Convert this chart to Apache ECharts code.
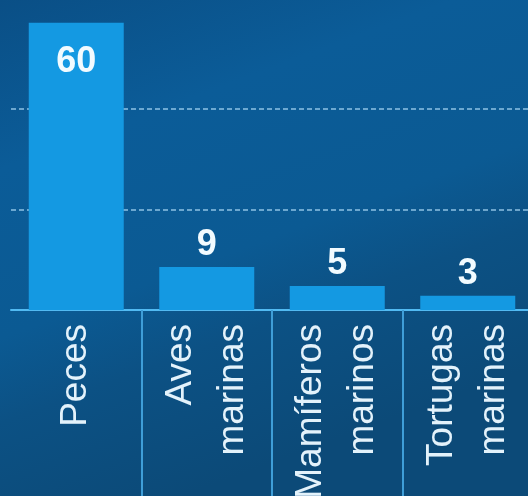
<!DOCTYPE html>
<html>
<head>
<meta charset="utf-8">
<script src="https://cdn.jsdelivr.net/npm/echarts@6/dist/echarts.min.js"></script>
<style>
html,body{margin:0;padding:0;background:#0b5690;}
#chart{width:528px;height:496px;}
</style>
</head>
<body>
<div id="chart"></div>
<script>
const categories = ['Peces', 'Aves\nmarinas', 'Mamíferos\nmarinos', 'Tortugas\nmarinas'];
const values = [60, 9, 5, 3];
const yMax = 63;
const yInterval = 21;

const chart = echarts.init(document.getElementById('chart'), null, {renderer: 'canvas'});
chart.setOption({
  animation: false,
  backgroundColor: {
    type: 'linear', x: 0, y: 0, x2: 0.35, y2: 1,
    colorStops: [
      {offset: 0, color: '#0a4f86'},
      {offset: 0.3, color: '#0b5c98'},
      {offset: 0.6, color: '#0b5a93'},
      {offset: 0.75, color: '#0c5184'},
      {offset: 1, color: '#0c4a78'}
    ]
  },
  grid: {left: 11, right: -5, top: 8.5, bottom: 186, containLabel: false, outerBoundsMode: 'none'},
  xAxis: {
    type: 'category',
    data: categories,
    axisLine: {show: true, lineStyle: {color: '#52baf2', width: 2}},
    axisTick: {
      show: true,
      length: 200,
      interval: function (i) { return i > 0; },
      lineStyle: {color: '#3f9ed8', width: 2}
    },
    axisLabel: {
      interval: 0,
      rotate: 90,
      margin: 14,
      color: '#e3f2fb',
      fontFamily: '"Liberation Sans", Arial, sans-serif',
      fontSize: 37,
      lineHeight: 52
    }
  },
  yAxis: {
    type: 'value',
    min: 0,
    max: yMax,
    interval: yInterval,
    axisLine: {show: false},
    axisTick: {show: false},
    axisLabel: {show: false},
    splitLine: {
      show: true,
      showMaxLine: false,
      showMinLine: false,
      lineStyle: {color: 'rgba(175,220,248,0.8)', type: [5, 3], width: 1.5}
    }
  },
  series: [{
    type: 'bar',
    barWidth: 95,
    itemStyle: {color: '#1499e2'},
    data: values.map(function (v) {
      return v >= 30
        ? {value: v, label: {position: 'insideTop', distance: 21}}
        : {value: v, label: {position: 'top', distance: 4}};
    }),
    label: {
      show: true,
      color: '#f2fbff',
      fontWeight: 'bold',
      fontFamily: '"Liberation Sans", Arial, sans-serif',
      fontSize: 36
    }
  }]
});
</script>
</body>
</html>
